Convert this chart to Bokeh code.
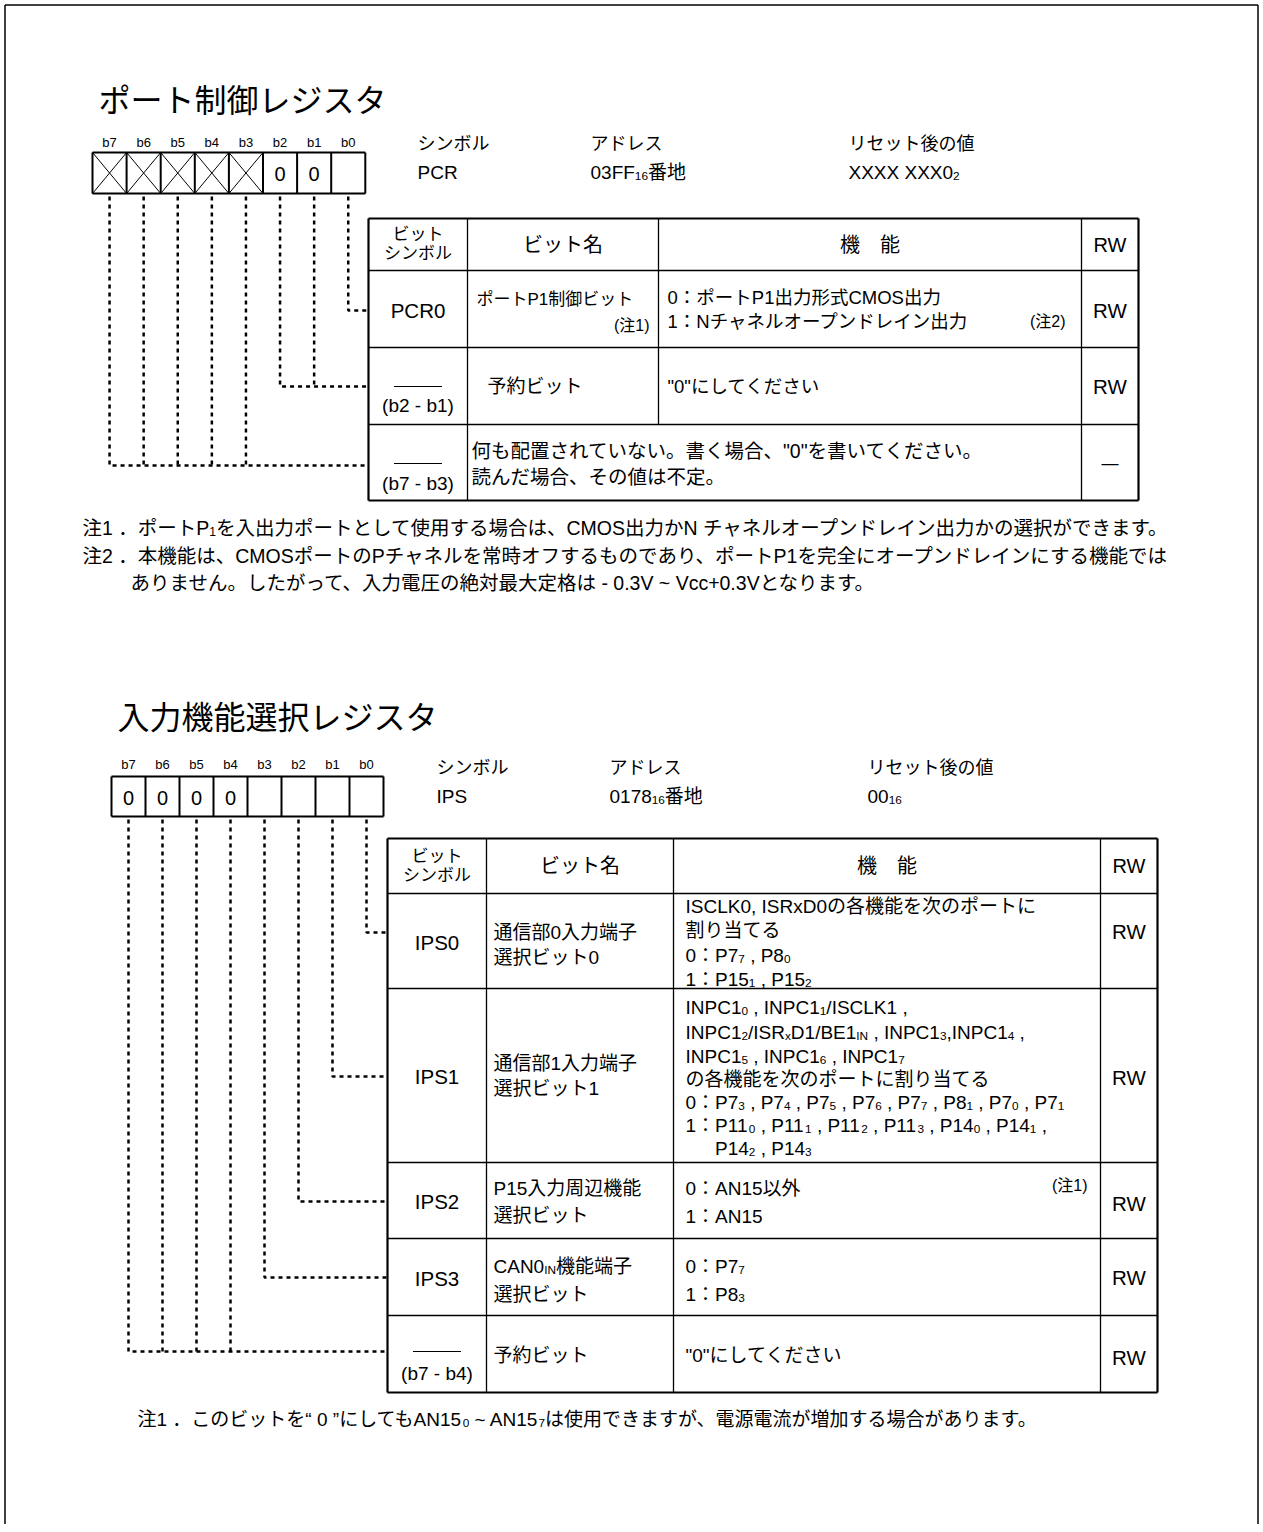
import re
from bokeh.plotting import figure
from bokeh.models import Range1d, ColumnDataSource
from bokeh.core.properties import value, field
from bokeh.embed import file_html
from bokeh.resources import INLINE

# ---------------- data ----------------
TITLE_PCR = "ポート制御レジスタ"
TITLE_IPS = "入力機能選択レジスタ"
BIT_LABELS = ["b7", "b6", "b5", "b4", "b3", "b2", "b1", "b0"]
PCR_BITS = ["x", "x", "x", "x", "x", "0", "0", ""]
IPS_BITS = ["0", "0", "0", "0", "", "", "", ""]
INFO_HEADS = ["シンボル", "アドレス", "リセット後の値"]
PCR_INFO = ["PCR", "03FF_{16}番地", "XXXX XXX0_{2}"]
IPS_INFO = ["IPS", "0178_{16}番地", "00_{16}"]
HEAD_SYMBOL = ["ビット", "シンボル"]
HEAD_NAME = "ビット名"
HEAD_FUNC = "機　能"
HEAD_RW = "RW"

PCR_SYMBOLS = ["PCR0", "(b2 - b1)", "(b7 - b3)"]
PCR_RESERVED = [False, True, True]
PCR_NAMES = [["ポートP1制御ビット"], ["予約ビット"], []]
PCR_NAME_NOTES = ["(注1)", "", ""]
PCR_FUNCS = [["0：ポートP1出力形式CMOS出力", "1：Nチャネルオープンドレイン出力"],
             ["\"0\"にしてください"], []]
PCR_FUNC_NOTES = ["(注2)", "", ""]
PCR_MERGED = [[], [], ["何も配置されていない。書く場合、\"0\"を書いてください。",
                       "読んだ場合、その値は不定。"]]
PCR_RW = ["RW", "RW", "—"]
PCR_LINKS = [[0], [1, 2], [3, 4, 5, 6, 7]]

PCR_NOTES = ["注1 ．ポートP_{1}を入出力ポートとして使用する場合は、CMOS出力かN チャネルオープンドレイン出力かの選択ができます。",
             "注2 ．本機能は、CMOSポートのPチャネルを常時オフするものであり、ポートP1を完全にオープンドレインにする機能では",
             "ありません。したがって、入力電圧の絶対最大定格は - 0.3V ~ Vcc+0.3Vとなります。"]

IPS_SYMBOLS = ["IPS0", "IPS1", "IPS2", "IPS3", "(b7 - b4)"]
IPS_RESERVED = [False, False, False, False, True]
IPS_NAMES = [["通信部0入力端子", "選択ビット0"], ["通信部1入力端子", "選択ビット1"],
             ["P15入力周辺機能", "選択ビット"], ["CAN0_{IN}機能端子", "選択ビット"], ["予約ビット"]]
IPS_FUNCS = [
    ["ISCLK0, ISRxD0の各機能を次のポートに", "割り当てる", "0：P7_{7} , P8_{0}", "1：P15_{1} , P15_{2}"],
    ["INPC1_{0} , INPC1_{1}/ISCLK1 ,", "INPC1_{2}/ISR_{x}D1/BE1_{IN} , INPC1_{3},INPC1_{4} ,",
     "INPC1_{5} , INPC1_{6} , INPC1_{7}", "の各機能を次のポートに割り当てる",
     "0：P7_{3} , P7_{4} , P7_{5} , P7_{6} , P7_{7} , P8_{1} , P7_{0} , P7_{1}",
     "1：P11_{0} , P11_{1} , P11_{2} , P11_{3} , P14_{0} , P14_{1} ,", "\tP14_{2} , P14_{3}"],
    ["0：AN15以外", "1：AN15"],
    ["0：P7_{7}", "1：P8_{3}"],
    ["\"0\"にしてください"],
]
IPS_FUNC_NOTES = ["", "", "(注1)", "", ""]
IPS_RW = ["RW", "RW", "RW", "RW", "RW"]
IPS_LINKS = [[0], [1], [2], [3], [4, 5, 6, 7]]
IPS_NOTES = ["注1 ．このビットを“ 0 ”にしてもAN15_{0} ~ AN15_{7}は使用できますが、電源電流が増加する場合があります。"]

# ---------------- layout ----------------
FIG_W, FIG_H = 1259, 1524
FONT = "Liberation Sans, Noto Sans CJK JP, sans-serif"
SUB = 0.62
AW = {' ': 278, '"': 355, '(': 333, ')': 333, '+': 584, ',': 278, '-': 333, '.': 278,
      '/': 278, ':': 278, '~': 584, '“': 333, '”': 333, '—': 1000,
      'A': 667, 'B': 667, 'C': 722, 'D': 722, 'E': 667, 'F': 611, 'G': 778, 'H': 722,
      'I': 278, 'J': 500, 'K': 667, 'L': 556, 'M': 833, 'N': 722, 'O': 778, 'P': 667,
      'Q': 778, 'R': 722, 'S': 667, 'T': 611, 'U': 722, 'V': 667, 'W': 944, 'X': 667,
      'Y': 667, 'Z': 611, 'a': 556, 'b': 556, 'c': 500, 'd': 556, 'e': 556, 'f': 278,
      'g': 556, 'h': 556, 'i': 222, 'j': 222, 'k': 500, 'l': 222, 'm': 833, 'n': 556,
      'o': 556, 'p': 556, 'q': 556, 'r': 333, 's': 500, 't': 278, 'u': 556, 'v': 500,
      'w': 722, 'x': 500, 'y': 500, 'z': 500}


def char_w(c):
    if c in AW:
        return AW[c] / 1000.0
    if ord(c) >= 0x2E80:
        return 1.0
    return 0.556


def text_w(s, size):
    return sum(char_w(c) for c in s) * size


TX = {a: {"x": [], "y": [], "text": [], "size": []} for a in ("left", "center", "right")}


def put(x, y, s, size, align="left"):
    if align == "left":
        lead = len(s) - len(s.lstrip(" "))
        x = x + lead * 0.278 * size
    s = s.strip(" ")
    if not s:
        return
    d = TX[align]
    d["x"].append(x)
    d["y"].append(y)
    d["text"].append(s)
    d["size"].append("%.1fpx" % size)


def parse(m):
    parts = re.split(r"_\{([^}]*)\}", m)
    return [(t, i % 2 == 1) for i, t in enumerate(parts) if t]


def rich(x, y, markup, size, align="left"):
    runs = parse(markup)
    if len(runs) == 1 and not runs[0][1]:
        put(x, y, runs[0][0], size, align)
        return
    ws = [text_w(t, size * SUB if s else size) for t, s in runs]
    total = sum(ws)
    if align == "center":
        x0 = x - total / 2
    elif align == "right":
        x0 = x - total
    else:
        x0 = x
    for (t, s), w in zip(runs, ws):
        if s:
            put(x0, y + 0.2 * size, t, size * SUB, "left")
        else:
            put(x0, y, t, size, "left")
        x0 += w


LN = {}


def seg(x0, y0, x1, y1, w=1.3):
    d = LN.setdefault(w, ([], [], [], []))
    d[0].append(x0); d[1].append(y0); d[2].append(x1); d[3].append(y1)


DOT = {"xs": [], "ys": []}


def dotted(xs, ys):
    DOT["xs"].append(xs)
    DOT["ys"].append(ys)


def register(x0, top, cw, ch, label_y, bits):
    for i, lab in enumerate(BIT_LABELS):
        cx = x0 + cw * (i + 0.5)
        put(cx, label_y, lab, 13, "center")
        v = bits[i]
        if v == "x":
            seg(x0 + cw * i, top, x0 + cw * (i + 1), top + ch, 1.0)
            seg(x0 + cw * i, top + ch, x0 + cw * (i + 1), top, 1.0)
        elif v:
            put(cx, top + ch / 2 + 1, v, 20, "center")
    for i in range(9):
        seg(x0 + cw * i, top, x0 + cw * i, top + ch, 2.0)
    seg(x0, top, x0 + 8 * cw, top, 2.0)
    seg(x0, top + ch, x0 + 8 * cw, top + ch, 2.0)


def connectors(x0, cw, ystart, links, link_ys, table_left):
    for bits, ly in zip(links, link_ys):
        cxs = sorted(x0 + cw * (7 - b + 0.5) for b in bits)
        dotted([cxs[0], cxs[0], table_left], [ystart, ly, ly])
        for cx in cxs[1:]:
            dotted([cx, cx], [ystart, ly])


def info(xs, yh, yv, values):
    for x, h, v in zip(xs, INFO_HEADS, values):
        put(x, yh, h, 18)
        rich(x, yv, v, 19)


def table_lines(xs, ys, merged_rows):
    L, R, T, B = xs[0], xs[-1], ys[0], ys[-1]
    for y in ys[1:-1]:
        seg(L, y, R, y, 1.3)
    seg(xs[1], T, xs[1], B, 1.3)
    seg(xs[3], T, xs[3], B, 1.3)
    for r in range(len(ys) - 1):
        if r not in merged_rows:
            seg(xs[2], ys[r], xs[2], ys[r + 1], 1.3)
    seg(L, T, R, T, 2.2); seg(L, B, R, B, 2.2)
    seg(L, T, L, B, 2.2); seg(R, T, R, B, 2.2)


def table_header(xs, yc):
    c0 = (xs[0] + xs[1]) / 2
    put(c0, yc - 10, HEAD_SYMBOL[0], 17, "center")
    put(c0, yc + 9, HEAD_SYMBOL[1], 17, "center")
    put((xs[1] + xs[2]) / 2, yc, HEAD_NAME, 20, "center")
    put((xs[2] + xs[3]) / 2, yc, HEAD_FUNC, 20, "center")
    put((xs[3] + xs[4]) / 2, yc, HEAD_RW, 20, "center")


# ---- section 1 : PCR ----
T1X = [368, 467, 658, 1081, 1138]
T1Y = [218, 270, 347, 424, 500]
T1_SYM_Y = [310, 405, 483]
T1_OVER_Y = [None, 386, 463]
T1_NAME_X = [476, 487, 476]
T1_NAME_SIZE = [17, 19, 19]
T1_NAME_Y = [[299], [386], []]
T1_NAME_NOTE_Y = [325, 0, 0]
T1_FUNC_Y = [[297, 321], [386], []]
T1_FUNC_NOTE_Y = [321, 0, 0]
T1_MERGED_Y = [[], [], [450, 476]]
T1_RW_Y = [310, 386, 463]

# ---- section 2 : IPS ----
T2X = [387, 486, 673, 1100, 1157]
T2Y = [838, 893, 988, 1162, 1238, 1315, 1392]
T2_SYM_Y = [942, 1076, 1201, 1278, 1373]
T2_OVER_Y = [None, None, None, None, 1351]
T2_NAME_Y = [[932, 957], [1063, 1088], [1188, 1215], [1266, 1294], [1355]]
T2_FUNC_Y = [[906, 930, 955, 979], [1007, 1032, 1056, 1079, 1102, 1125, 1148],
             [1188, 1216], [1266, 1294], [1355]]
T2_FUNC_NOTE_Y = [0, 0, 1185, 0, 0]
T2_RW_Y = [931, 1077, 1203, 1277, 1357]

# frame
seg(4.5, 4.5, 1257.5, 4.5, 1.5)
seg(4.5, 4.5, 4.5, FIG_H, 1.5)
seg(1257.5, 4.5, 1257.5, FIG_H, 1.5)

# ----- section 1 drawing -----
put(98, 100, TITLE_PCR, 32)
register(92, 152, 34.1, 41, 142, PCR_BITS)
info([417, 590, 848], 143, 172, PCR_INFO)
connectors(92, 34.1, 196, PCR_LINKS,
           [T1_SYM_Y[0], T1_OVER_Y[1], T1_OVER_Y[2] + 2], T1X[0])
table_lines(T1X, T1Y, merged_rows=[3])
table_header(T1X, (T1Y[0] + T1Y[1]) / 2)
c0 = (T1X[0] + T1X[1]) / 2
for r in range(len(PCR_SYMBOLS)):
    if PCR_RESERVED[r]:
        seg(c0 - 24, T1_OVER_Y[r], c0 + 24, T1_OVER_Y[r], 1.0)
        put(c0, T1_SYM_Y[r], PCR_SYMBOLS[r], 19, "center")
    else:
        put(c0, T1_SYM_Y[r], PCR_SYMBOLS[r], 20.5, "center")
    for line, y in zip(PCR_NAMES[r], T1_NAME_Y[r]):
        rich(T1_NAME_X[r], y, line, T1_NAME_SIZE[r])
    if PCR_NAME_NOTES[r]:
        put(T1X[2] - 9, T1_NAME_NOTE_Y[r], PCR_NAME_NOTES[r], 16, "right")
    for line, y in zip(PCR_FUNCS[r], T1_FUNC_Y[r]):
        rich(T1X[2] + 9, y, line, 18.5)
    if PCR_FUNC_NOTES[r]:
        put(T1X[3] - 16, T1_FUNC_NOTE_Y[r], PCR_FUNC_NOTES[r], 16, "right")
    for line, y in zip(PCR_MERGED[r], T1_MERGED_Y[r]):
        rich(T1X[1] + 4, y, line, 19.5)
    put((T1X[3] + T1X[4]) / 2, T1_RW_Y[r], PCR_RW[r], 20.5 if PCR_RW[r] == "RW" else 17, "center")

for line, (x, y) in zip(PCR_NOTES, [(82, 527), (82, 555), (130, 582)]):
    rich(x, y, line, 19.5)

# ----- section 2 drawing -----
put(117, 717, TITLE_IPS, 32)
register(111, 776, 34.0, 40, 764, IPS_BITS)
info([436, 609, 867], 767, 796, IPS_INFO)
connectors(111, 34.0, 819, IPS_LINKS,
           [T2_RW_Y[0] + 1, T2_SYM_Y[1], T2_SYM_Y[2], T2_RW_Y[3], T2_OVER_Y[4]], T2X[0])
table_lines(T2X, T2Y, merged_rows=[])
table_header(T2X, (T2Y[0] + T2Y[1]) / 2)
c0 = (T2X[0] + T2X[1]) / 2
indent = text_w("1：", 19)
for r in range(len(IPS_SYMBOLS)):
    if IPS_RESERVED[r]:
        seg(c0 - 24, T2_OVER_Y[r], c0 + 24, T2_OVER_Y[r], 1.0)
        put(c0, T2_SYM_Y[r], IPS_SYMBOLS[r], 19, "center")
    else:
        put(c0, T2_SYM_Y[r], IPS_SYMBOLS[r], 20.5, "center")
    for line, y in zip(IPS_NAMES[r], T2_NAME_Y[r]):
        rich(T2X[1] + 7, y, line, 19)
    for line, y in zip(IPS_FUNCS[r], T2_FUNC_Y[r]):
        if line.startswith("\t"):
            rich(T2X[2] + 12 + indent, y, line[1:], 19)
        else:
            rich(T2X[2] + 12, y, line, 19)
    if IPS_FUNC_NOTES[r]:
        put(T2X[3] - 13, T2_FUNC_NOTE_Y[r], IPS_FUNC_NOTES[r], 16, "right")
    put((T2X[3] + T2X[4]) / 2, T2_RW_Y[r], IPS_RW[r], 20.5, "center")

rich(137, 1419, IPS_NOTES[0], 19)

# ---------------- figure ----------------
p = figure(width=FIG_W, height=FIG_H, x_range=Range1d(0, FIG_W), y_range=Range1d(FIG_H, 0),
           x_axis_type=None, y_axis_type=None, output_backend="svg",
           toolbar_location=None, min_border=0)
p.outline_line_color = None
p.background_fill_color = "white"
p.border_fill_color = "white"

for w, (x0, y0, x1, y1) in LN.items():
    p.segment(x0=x0, y0=y0, x1=x1, y1=y1, line_color="black", line_width=w)

p.multi_line(xs=DOT["xs"], ys=DOT["ys"], line_color="black", line_width=2.5,
             line_dash="4 4")

for a, d in TX.items():
    if not d["x"]:
        continue
    src = ColumnDataSource(d)
    p.text(x="x", y="y", text="text", source=src, text_font=value(FONT),
           text_font_size=field("size"), text_align=a, text_baseline="middle",
           text_color="black")

open("out.html", "w").write(file_html(p, INLINE))
